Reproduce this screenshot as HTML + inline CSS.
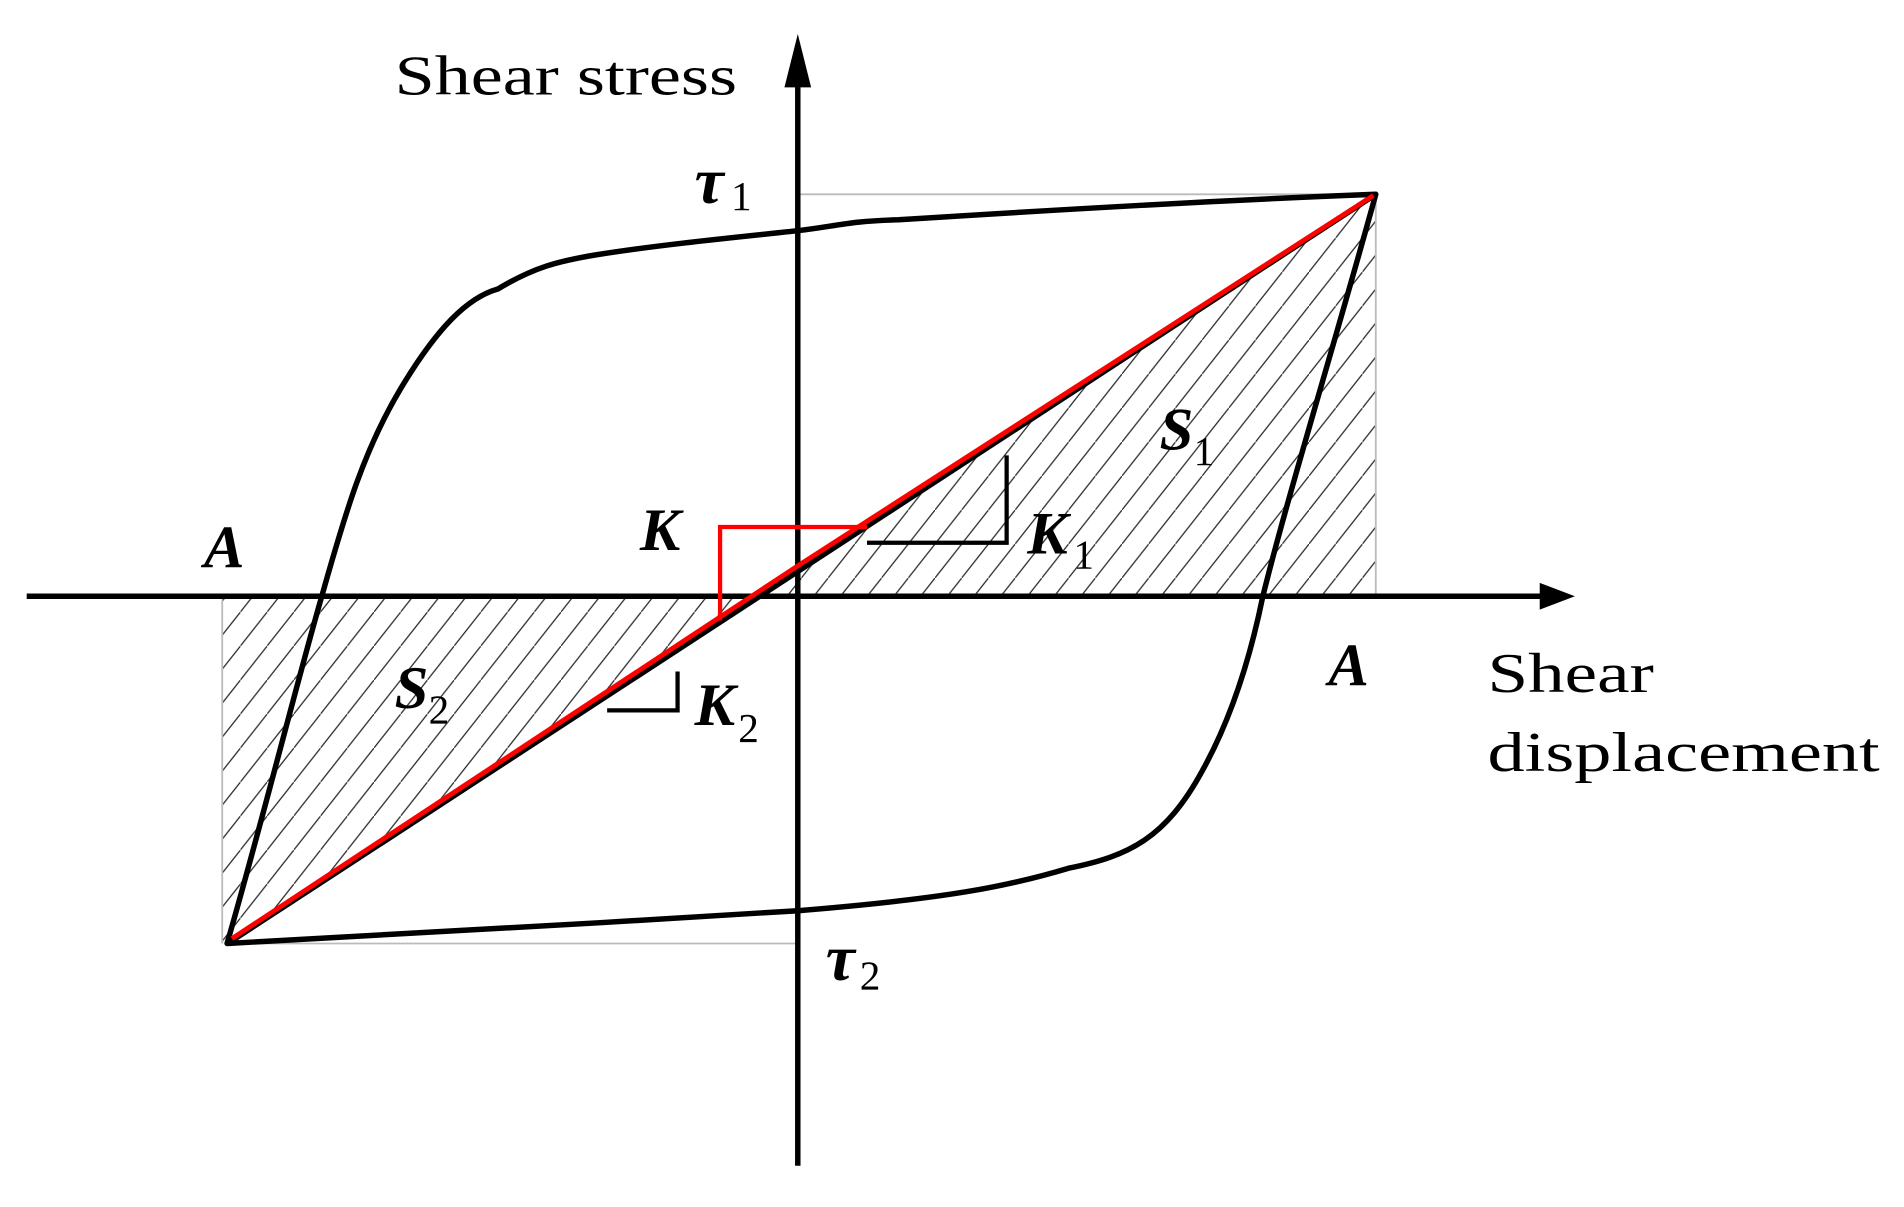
<!DOCTYPE html>
<html><head><meta charset="utf-8"><style>html,body{margin:0;padding:0;background:#fff}svg{display:block}
.t{font-family:"Liberation Serif",serif}</style></head>
<body>
<svg width="1904" height="1207" viewBox="0 0 1568 994" xmlns="http://www.w3.org/2000/svg">
<defs>
<pattern id="h" width="22" height="28" patternUnits="userSpaceOnUse">
<line x1="-2" y1="30.5" x2="24" y2="-2.5" stroke="#333" stroke-width="1.1"/>
</pattern>
</defs>
<polygon points="625,491 1133,160 1133,491" fill="url(#h)"/>
<polygon points="625,491 187,777 183,777 183,491" fill="url(#h)"/>
<g stroke="#bbb" stroke-width="1.5" fill="none">
<line x1="657" y1="160" x2="1133" y2="160"/>
<line x1="187" y1="777" x2="657" y2="777"/>
<line x1="1133" y1="160" x2="1133" y2="491"/>
<line x1="183" y1="491" x2="183" y2="777"/>
</g>
<g stroke="#000" stroke-width="4.5" fill="none">
<line x1="657" y1="960" x2="657" y2="60"/>
<line x1="22" y1="491" x2="1275" y2="491"/>
</g>
<polygon points="657,28 646,72 668,72" fill="#000"/>
<polygon points="1297,491 1268,480 1268,502" fill="#000"/>
<path d="M187,777 C215,680 245,560 265,491 C285,420 300,370 330,320 C360,270 385,245 410,238 C440,220 460,215 490,210 C540,202 600,196 657,190 C690,186 700,182 740,181 C850,174 1000,165 1133,160 C1100,280 1060,410 1040,491 C1030,540 1015,590 990,635 C960,690 930,705 880,715 C830,730 780,740 657,750 C500,760 350,768 187,777 Z" fill="none" stroke="#000" stroke-width="4.5" stroke-linejoin="round"/>
<line x1="189" y1="776" x2="1133" y2="160" stroke="#000" stroke-width="4.5"/>
<polyline points="191,773 657,466 1131,161" fill="none" stroke="#f00" stroke-width="4"/>
<polyline points="593,511 593,434 714,434" fill="none" stroke="#f00" stroke-width="3.5"/>
<polyline points="714,447 829,447 829,375" fill="none" stroke="#000" stroke-width="3.5"/>
<polyline points="500,585 558,585 558,553" fill="none" stroke="#000" stroke-width="3.5"/>
<g class="t" fill="#000">
<text x="325" y="78" font-size="46" textLength="282" lengthAdjust="spacingAndGlyphs">Shear stress</text>
<text x="1225" y="570" font-size="46" textLength="137" lengthAdjust="spacingAndGlyphs">Shear</text>
<text x="1225" y="635" font-size="46" textLength="323" lengthAdjust="spacingAndGlyphs">displacement</text>
<g font-style="italic" font-weight="bold">
<text x="572" y="167" font-size="54">τ</text><text x="602" y="173" font-size="34" font-style="normal" font-weight="normal">1</text>
<text x="680" y="807" font-size="54">τ</text><text x="708" y="815" font-size="34" font-style="normal" font-weight="normal">2</text>
</g>
<g font-style="italic" font-weight="bold" font-size="50">
<text x="168" y="467">A</text>
<text x="1094" y="564">A</text>
<text x="955" y="370">S</text><text x="983" y="383" font-size="34" font-style="normal" font-weight="normal">1</text>
<text x="325" y="583">S</text><text x="353" y="596" font-size="34" font-style="normal" font-weight="normal">2</text>
<text x="527" y="453">K</text>
<text x="846" y="456">K</text><text x="884" y="468" font-size="34" font-style="normal" font-weight="normal">1</text>
<text x="572" y="597">K</text><text x="608" y="611" font-size="34" font-style="normal" font-weight="normal">2</text>
</g>
</g>
</svg>
</body></html>
